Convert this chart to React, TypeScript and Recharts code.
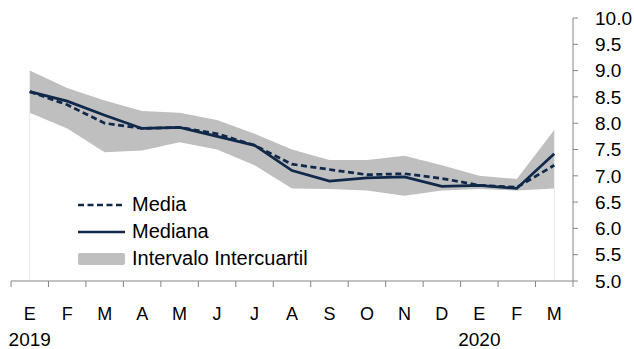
import { ComposedChart, Area, Line, XAxis, YAxis, ReferenceLine } from 'recharts';

const months = ['E', 'F', 'M', 'A', 'M', 'J', 'J', 'A', 'S', 'O', 'N', 'D', 'E', 'F', 'M'];
const years = ['2019', '', '', '', '', '', '', '', '', '', '', '', '2020', '', ''];
const media = [8.6, 8.35, 8.0, 7.9, 7.92, 7.8, 7.58, 7.22, 7.12, 7.02, 7.04, 6.95, 6.82, 6.78, 7.2];
const mediana = [8.6, 8.42, 8.15, 7.9, 7.92, 7.75, 7.58, 7.1, 6.9, 6.96, 6.98, 6.8, 6.82, 6.76, 7.42];
const q1 = [8.2, 7.9, 7.45, 7.48, 7.64, 7.5, 7.2, 6.76, 6.75, 6.72, 6.62, 6.72, 6.75, 6.72, 6.76];
const q3 = [9.0, 8.67, 8.43, 8.23, 8.2, 8.06, 7.8, 7.5, 7.3, 7.3, 7.38, 7.2, 7.0, 6.94, 7.87];
const yTicks = [5, 5.5, 6, 6.5, 7, 7.5, 8, 8.5, 9, 9.5, 10];
const legendItems = [
  { name: 'Media', kind: 'dash' },
  { name: 'Mediana', kind: 'line' },
  { name: 'Intervalo Intercuartil', kind: 'band' },
];

const data = months.map((m, i) => ({
  i,
  media: media[i],
  mediana: mediana[i],
  iqr: [q1[i], q3[i]],
}));
const monthIdx = months.map((_, i) => i);
const boundaries = [...months.map((_, i) => i - 0.5), months.length - 0.5];

const FONT = '"Liberation Sans", Arial, sans-serif';
const NAVY = '#10294a';
const AXIS = '#868686';
const BAND = '#bfbfbf';

const MonthTick = ({ x, y, payload }: any) => {
  const idx = payload.value;
  return (
    <g>
      <text x={x} y={y + 36} textAnchor="middle" fontSize={18} fill="#000" fontFamily={FONT}>
        {months[idx]}
      </text>
      {years[idx] && (
        <text x={x} y={y + 62} textAnchor="middle" fontSize={19} fill="#000" fontFamily={FONT}>
          {years[idx]}
        </text>
      )}
    </g>
  );
};

const LegendBox = () => (
  <div
    style={{
      position: 'absolute',
      left: 78,
      top: 191,
      fontFamily: FONT,
      fontSize: 20,
      color: '#000',
    }}
  >
    {legendItems.map((e) => (
      <div key={e.name} style={{ display: 'flex', alignItems: 'center', height: 27 }}>
        <svg width={47} height={14} style={{ marginRight: 7 }}>
          {e.kind === 'band' ? (
            <rect x={0} y={1} width={47} height={12} rx={2} fill={BAND} />
          ) : (
            <line
              x1={0}
              y1={7}
              x2={47}
              y2={7}
              stroke={NAVY}
              strokeWidth={2.5}
              strokeDasharray={e.kind === 'dash' ? '6 3.5' : undefined}
            />
          )}
        </svg>
        <span style={{ whiteSpace: 'nowrap' }}>{e.name}</span>
      </div>
    ))}
  </div>
);

export default function App() {
  return (
    <div style={{ position: 'absolute', left: 0, top: 0, width: 634, height: 349, background: '#fff', overflow: 'hidden' }}>
      <div
        style={{
          position: 'absolute',
          left: 12,
          top: -21,
          fontFamily: FONT,
          fontSize: 20,
          color: '#7f7f7f',
          lineHeight: '22px',
        }}
      >
        Por ciento
      </div>
      <ComposedChart width={634} height={349} data={data} margin={{ top: 18, right: 0, bottom: 0, left: 11 }}>
        <XAxis
          xAxisId="b"
          dataKey="i"
          type="number"
          domain={[-0.5, 14.5]}
          ticks={boundaries}
          interval={0}
          tickFormatter={() => ''}
          height={1}
          tickSize={6}
          stroke={AXIS}
          allowDataOverflow
        />
        <XAxis
          xAxisId="l"
          dataKey="i"
          type="number"
          domain={[-0.5, 14.5]}
          ticks={monthIdx}
          interval={0}
          height={67}
          axisLine={false}
          tickLine={false}
          tickSize={0}
          tick={<MonthTick />}
          allowDataOverflow
        />
        <YAxis
          orientation="right"
          domain={[5, 10]}
          ticks={yTicks}
          interval={0}
          width={61}
          tickSize={5}
          tickMargin={17}
          stroke={AXIS}
          tickFormatter={(v) => v.toFixed(1)}
          tick={{ fill: '#000', fontSize: 19, fontFamily: FONT, textAnchor: 'start' }}
        />
        <ReferenceLine
          xAxisId="l"
          segment={[{ x: 0, y: 5 }, { x: 0, y: q1[0] }]}
          stroke="#e8e8e8"
          strokeWidth={1}
        />
        <ReferenceLine
          xAxisId="l"
          segment={[{ x: 14, y: 5 }, { x: 14, y: q1[14] }]}
          stroke="#e8e8e8"
          strokeWidth={1}
        />
        <Area
          xAxisId="l"
          dataKey="iqr"
          type="linear"
          fill={BAND}
          fillOpacity={1}
          stroke="none"
          isAnimationActive={false}
        />
        <Line
          xAxisId="l"
          dataKey="media"
          type="linear"
          stroke={NAVY}
          strokeWidth={2.75}
          strokeDasharray="6 3.5"
          dot={false}
          isAnimationActive={false}
        />
        <Line
          xAxisId="l"
          dataKey="mediana"
          type="linear"
          stroke={NAVY}
          strokeWidth={2.75}
          dot={false}
          isAnimationActive={false}
        />
      </ComposedChart>
      <LegendBox />
    </div>
  );
}
